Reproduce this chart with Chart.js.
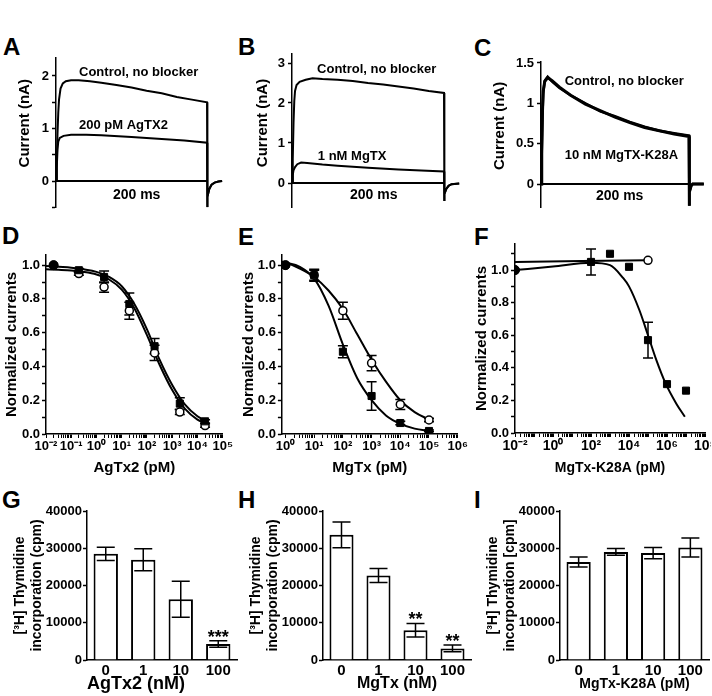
<!DOCTYPE html>
<html><head><meta charset="utf-8">
<script src="https://cdn.jsdelivr.net/npm/chart.js@4/dist/chart.umd.min.js"></script>
<style>
html,body{margin:0;padding:0;background:#fff;width:712px;height:696px;overflow:hidden;position:relative;}
canvas{position:absolute;}
.lbl{position:absolute;font:bold 24px/1 'Liberation Sans',Arial,sans-serif;color:#000;}
</style></head><body>
<div class="lbl" style="left:3px;top:35px">A</div>
<div class="lbl" style="left:238px;top:35px">B</div>
<div class="lbl" style="left:474px;top:36px">C</div>
<div class="lbl" style="left:2px;top:224px">D</div>
<div class="lbl" style="left:238px;top:225px">E</div>
<div class="lbl" style="left:474px;top:225px">F</div>
<div class="lbl" style="left:2px;top:488px">G</div>
<div class="lbl" style="left:238px;top:488px">H</div>
<div class="lbl" style="left:474px;top:488px">I</div>
<script>
// ================= DATA =================
// Panel A current traces (time in ms, current in nA)
const A_CTRL_T = [0,1,2,3,4,6,9,13,20,30,45,60,80,100,120,140,160,180,200,200,201,203,206,210,215,220];
const A_CTRL_I = [0,0.35,0.9,1.3,1.55,1.76,1.86,1.9,1.92,1.92,1.9,1.87,1.83,1.78,1.72,1.67,1.6,1.55,1.5,-0.5,-0.3,-0.15,-0.07,-0.03,-0.01,0];
const A_TOX_T  = [0,1,2,3,5,10,20,40,60,100,140,170,200,200,201,203,206,210,215,220];
const A_TOX_I  = [0,0.25,0.6,0.75,0.82,0.86,0.88,0.88,0.87,0.84,0.8,0.77,0.73,-0.5,-0.3,-0.15,-0.07,-0.03,-0.01,0];
// Panel B
const B_CTRL_T = [0,1,2,3,4,6,10,18,27,40,60,80,100,120,140,160,180,200,200,201,203,206,210,220];
const B_CTRL_I = [0,0.6,1.5,2.05,2.3,2.45,2.53,2.58,2.62,2.6,2.58,2.55,2.5,2.46,2.41,2.36,2.3,2.25,-0.45,-0.28,-0.15,-0.07,-0.03,-0.01];
const B_TOX_T  = [0,1,2,4,7,12,20,40,60,100,140,170,200,200,201,203,206,210,220];
const B_TOX_I  = [0,0.2,0.32,0.4,0.47,0.51,0.5,0.46,0.43,0.38,0.34,0.31,0.29,-0.45,-0.28,-0.15,-0.07,-0.03,-0.01];
// Panel C
const C_CTRL_T = [0,1,2,3,5,9,15,25,40,60,80,100,120,140,160,180,200,200,201,203,205,220];
const C_CTRL_I = [0,0.4,0.9,1.15,1.27,1.32,1.28,1.2,1.1,0.99,0.91,0.83,0.76,0.7,0.66,0.62,0.59,-0.27,-0.1,-0.02,0,0];
const C_TOX_T  = [0,1,2,3,5,9,15,25,40,60,80,100,120,140,160,180,200,200,201,203,205,220];
const C_TOX_I  = [0,0.35,0.85,1.12,1.28,1.33,1.27,1.19,1.1,1.0,0.9,0.84,0.77,0.71,0.66,0.63,0.6,-0.27,-0.1,-0.02,0,0];
const SCALEBAR_T = [0,200];
const SCALEBAR_I = [0,0];

// Panel D (AgTx2, pM)
const D_CONC = [0.02,0.2,2,20,200,2000,20000];
const D_FILLED = [1.0,0.97,0.93,0.77,0.52,0.18,0.075];
const D_FILLED_ERR = [0,0.01,0.035,0.065,0.045,0.035,0.01];
const D_OPEN = [1.0,0.95,0.87,0.73,0.48,0.13,0.05];
const D_OPEN_ERR = [0,0.01,0.03,0.05,0.045,0.015,0.01];
const D_FIT_X = [0.01,0.0316,0.1,0.316,1,3.16,10,31.6,100,316,1000,3162,10000,20000];
const D_FIT_FILLED = [0.995,0.99,0.985,0.975,0.96,0.93,0.875,0.77,0.62,0.44,0.29,0.175,0.105,0.08];
const D_FIT_OPEN = [0.975,0.972,0.968,0.96,0.945,0.915,0.855,0.745,0.585,0.41,0.26,0.15,0.085,0.065];
const D_X_MAJOR = [0.01,0.1,1,10,100,1000,10000,100000];
const D_X_LABELS = ['10⁻²','10⁻¹','10⁰','10¹','10²','10³','10⁴','10⁵'];

// Panel E (MgTx, pM)
const E_CONC = [1,10,100,1000,10000,100000];
const E_FILLED = [1.0,0.94,0.487,0.225,0.065,0.018];
const E_FILLED_ERR = [0,0.03,0.035,0.085,0.01,0.005];
const E_OPEN = [1.0,0.94,0.73,0.42,0.175,0.083];
const E_OPEN_ERR = [0,0.035,0.05,0.045,0.03,0.01];
const E_FIT_X = [0.75,1,3.16,10,31.6,100,316,1000,3162,10000,31623,100000];
const E_FIT_OPEN = [1.02,1.015,0.98,0.93,0.85,0.74,0.59,0.44,0.31,0.2,0.13,0.085];
const E_FIT_FILLED = [1.02,1.015,0.99,0.92,0.76,0.53,0.33,0.2,0.11,0.06,0.032,0.018];
const E_X_MAJOR = [1,10,100,1000,10000,100000,1000000];
const E_X_LABELS = ['10⁰','10¹','10²','10³','10⁴','10⁵','10⁶'];

// Panel F (MgTx-K28A, pM)
const F_CONC = [0.01,100,1000,10000,100000,1000000,10000000];
const F_FILLED = [1.0,1.05,1.10,1.02,0.57,0.30,0.26];
const F_FILLED_ERR = [0,0.08,0,0,0.11,0,0];
const F_OPEN_CONC = [0.01,100000];
const F_OPEN = [1.0,1.06];
const F_FIT_X = [0.01,1,100,1000,5000,10000,35000,100000,270000,830000,3100000,8700000];
const F_FIT_FILLED = [1.0,1.022,1.045,1.03,0.95,0.9,0.755,0.6,0.45,0.306,0.18,0.1];
const F_FIT_OPEN_X = [0.01,100000];
const F_FIT_OPEN = [1.05,1.06];
const F_X_MAJOR = [0.01,1,100,10000,1000000,100000000];
const F_X_LABELS = ['10⁻²','10⁰','10²','10⁴','10⁶','10⁸'];

// Panels G, H, I ([3H] thymidine incorporation, cpm)
const DOSE_CATS = ['0','1','10','100'];
const G_VALUES = [28500,26900,16300,4300];
const G_ERR = [1800,2950,4850,850];
const G_STARS = ['','','','***'];
const H_VALUES = [33600,22700,8000,3100];
const H_ERR = [3450,1870,1800,900];
const H_STARS = ['','','**','**'];
const I_VALUES = [26300,29000,28700,30200];
const I_ERR = [1350,900,1500,2550];
const I_STARS = ['','','',''];
const BAR_Y_TICKS = [0,10000,20000,30000,40000];
const BAR_Y_LABELS = ['0','10000','20000','30000','40000'];

// ================= RENDERING =================
const FONT = "'Liberation Sans', Arial, Helvetica, sans-serif";
Chart.defaults.font.family = FONT;
Chart.defaults.font.size = 13;
Chart.defaults.font.weight = 'bold';
Chart.defaults.color = '#000';
Chart.defaults.plugins.legend.display = false;
Chart.defaults.plugins.tooltip.enabled = false;

const xy = (xs, ys) => xs.map((x, i) => ({x: x, y: ys[i]}));

function textPlugin(items) {
  return { id: 'texts', afterDatasetsDraw(chart) {
    const ctx = chart.ctx, xs = chart.scales.x, ys = chart.scales.y, ca = chart.chartArea;
    items.forEach(it => {
      const px = (it.dx !== undefined) ? ca.left + it.dx : xs.getPixelForValue(it.x);
      const py = ys.getPixelForValue(it.y);
      ctx.save();
      ctx.font = 'bold ' + (it.size || 13) + 'px ' + FONT;
      ctx.fillStyle = '#000';
      ctx.textAlign = it.align || 'left';
      ctx.textBaseline = 'middle';
      ctx.translate(px, py);
      if (it.rot) ctx.rotate(it.rot);
      ctx.fillText(it.text, 0, 0);
      ctx.restore();
    });
  }};
}

function errPlugin(after) {
  const draw = (chart) => {
    const ctx = chart.ctx, ys = chart.scales.y;
    chart.data.datasets.forEach((ds, di) => {
      if (!ds.errors) return;
      const meta = chart.getDatasetMeta(di);
      ds.errors.forEach((e, i) => {
        const el = meta.data[i];
        if (!el) return;
        const raw = ds.data[i];
        const v = (typeof raw === 'object') ? raw.y : raw;
        const x = el.x, hw = (ds.capWidth || 10) / 2;
        const y1 = ys.getPixelForValue(v + e), y2 = ys.getPixelForValue(v - e);
        if (e) {
          ctx.save();
          ctx.strokeStyle = '#000';
          ctx.lineWidth = ds.errWidth || 1.5;
          ctx.beginPath();
          ctx.moveTo(x, y1); ctx.lineTo(x, y2);
          ctx.moveTo(x - hw, y1); ctx.lineTo(x + hw, y1);
          ctx.moveTo(x - hw, y2); ctx.lineTo(x + hw, y2);
          ctx.stroke();
          ctx.restore();
        }
        if (ds.stars && ds.stars[i]) {
          ctx.save();
          ctx.font = 'bold 18px ' + FONT;
          ctx.fillStyle = '#000';
          ctx.textAlign = 'center';
          ctx.textBaseline = 'alphabetic';
          ctx.fillText(ds.stars[i], x, y1 + 2);
          ctx.restore();
        }
      });
    });
  };
  return after ? {id: 'errbars', afterDatasetsDraw: draw} : {id: 'errbars', beforeDatasetsDraw: draw};
}

function labelLookup(vals, labels) {
  return (v) => {
    const i = vals.findIndex(t => Math.abs(t - v) <= 1e-9 * Math.max(1, Math.abs(t)));
    return i >= 0 ? labels[i] : '';
  };
}

function yLin(min, max, vals, labels, extra) {
  return Object.assign({
    type: 'linear', min: min, max: max,
    border: {display: true, color: '#000', width: 1.5},
    grid: {drawOnChartArea: false, drawTicks: true, tickLength: 4, tickColor: '#000', tickWidth: 1.5},
    ticks: {padding: 3, autoSkip: false, font: {size: 13}, callback: labelLookup(vals, labels)},
    afterBuildTicks: s => { s.ticks = vals.map(v => ({value: v})); }
  }, extra || {});
}

function logTickValues(minExp, maxExp, minVal) {
  const out = [];
  for (let e = minExp; e < maxExp; e++) {
    for (let k = 1; k <= 9; k++) {
      const v = k * Math.pow(10, e);
      if (v >= minVal) out.push(v);
    }
  }
  out.push(Math.pow(10, maxExp));
  return out;
}

function xLog(min, max, tickVals, major, labels, title, titleSize, tickSize) {
  return {
    type: 'logarithmic', min: min, max: max,
    border: {display: true, color: '#000', width: 1.5},
    grid: {drawOnChartArea: false, drawTicks: true, tickLength: 4, tickColor: '#000', tickWidth: 1},
    ticks: {padding: 1, autoSkip: false, maxRotation: 0, minRotation: 0, font: {size: tickSize}, callback: labelLookup(major, labels)},
    afterBuildTicks: s => { s.ticks = tickVals.map(v => ({value: v})); },
    title: {display: true, text: title, font: {size: titleSize}, padding: {top: 2, bottom: 4}}
  };
}

function panel(spec, cfg) {
  const top = Math.round(spec.T - spec.pt);
  const left = spec.left;
  const yw = spec.L - left;
  const width = Math.round(spec.R - left + spec.pr);
  const height = Math.round(spec.B - top + spec.xh + spec.pb);
  const padTop = spec.T - top;
  const padRight = width - (spec.R - left);
  const padBottom = height - (spec.B - top) - spec.xh;
  const cv = document.createElement('canvas');
  cv.width = width; cv.height = height;
  cv.style.left = left + 'px'; cv.style.top = top + 'px';
  cv.style.width = width + 'px'; cv.style.height = height + 'px';
  document.body.appendChild(cv);
  const o = cfg.options;
  o.responsive = false; o.animation = false; o.devicePixelRatio = 1; o.events = [];
  o.layout = {padding: {left: 0, top: padTop, right: padRight, bottom: padBottom}};
  o.scales.y.afterFit = s => { s.width = yw; s.paddingTop = 0; s.paddingBottom = 0; };
  if (o.scales.x.display !== false) {
    o.scales.x.afterFit = s => { s.height = spec.xh; s.paddingLeft = 0; s.paddingRight = 0; };
  }
  return new Chart(cv, cfg);
}

function trace(xs, ys, w) {
  return {data: xy(xs, ys), showLine: true, borderColor: '#000', borderWidth: w, pointRadius: 0, tension: 0, fill: false};
}

function traceChart(spec, datasets, xmax, ymin, ymax, yVals, yLabels, texts) {
  return panel(spec, {
    type: 'scatter',
    data: {datasets: datasets},
    options: {
      scales: {
        x: {type: 'linear', display: false, min: 0, max: xmax},
        y: yLin(ymin, ymax, yVals, yLabels)
      }
    },
    plugins: [textPlugin(texts)]
  });
}

// ---- Panel A ----
traceChart({L: 56, R: 225.9, T: 57.6, B: 207.3, left: 10, xh: 0, pt: 9, pr: 2, pb: 4},
  [trace(SCALEBAR_T, SCALEBAR_I, 2), trace(A_CTRL_T, A_CTRL_I, 2), trace(A_TOX_T, A_TOX_I, 2)],
  225, -0.5, 2.35, [-0.5,0,0.5,1,1.5,2], ['','0','','1','','2'],
  [{x: 30.5, y: 2.06, text: 'Control, no blocker'},
   {x: 30.5, y: 1.05, text: '200 pM AgTX2'},
   {x: 106.8, y: -0.27, text: '200 ms', align: 'center', size: 14},
   {dx: -31, y: 1.1, text: 'Current (nA)', align: 'center', size: 15, rot: -Math.PI / 2}]);

// ---- Panel B ----
traceChart({L: 292, R: 463, T: 54, B: 207, left: 246, xh: 0, pt: 9, pr: 2, pb: 4},
  [trace(SCALEBAR_T, SCALEBAR_I, 2), trace(B_CTRL_T, B_CTRL_I, 2), trace(B_TOX_T, B_TOX_I, 2)],
  225, -0.6, 3.225, [0,1,2,3], ['0','1','2','3'],
  [{x: 33, y: 2.83, text: 'Control, no blocker'},
   {x: 34, y: 0.675, text: '1 nM MgTX'},
   {x: 107.5, y: -0.3, text: '200 ms', align: 'center', size: 14},
   {dx: -29, y: 1.5, text: 'Current (nA)', align: 'center', size: 15, rot: -Math.PI / 2}]);

// ---- Panel C ----
traceChart({L: 541, R: 707.5, T: 62, B: 207, left: 490, xh: 0, pt: 9, pr: 2, pb: 4},
  [trace(SCALEBAR_T, SCALEBAR_I, 2), trace(C_CTRL_T, C_CTRL_I, 3), trace(C_TOX_T, C_TOX_I, 2.5)],
  225, -0.285, 1.512, [0,0.5,1,1.5], ['0','0.5','1','1.5'],
  [{x: 32, y: 1.276, text: 'Control, no blocker'},
   {x: 32, y: 0.36, text: '10 nM MgTX-K28A'},
   {x: 106.3, y: -0.15, text: '200 ms', align: 'center', size: 14},
   {dx: -41, y: 0.72, text: 'Current (nA)', align: 'center', size: 15, rot: -Math.PI / 2}]);

// ---- Dose-response panels ----
const NORM_TICKS = [0,0.1,0.2,0.3,0.4,0.5,0.6,0.7,0.8,0.9,1.0];
const NORM_LABELS = ['0.0','','0.2','','0.4','','0.6','','0.8','','1.0'];
const NORM_TICKS_F = NORM_TICKS.concat([1.1]);
const NORM_LABELS_F = NORM_LABELS.concat(['']);

function filledSet(xs, ys, errs) {
  return {data: xy(xs, ys), errors: errs, capWidth: 10, showLine: false,
    pointStyle: c => c.dataIndex === 0 ? 'circle' : 'rect',
    pointRadius: c => c.dataIndex === 0 ? 4.5 : 5,
    backgroundColor: '#000', borderColor: '#000', borderWidth: 1, order: 0};
}
function openSet(xs, ys, errs) {
  return {data: xy(xs, ys), errors: errs, capWidth: 10, showLine: false,
    pointStyle: 'circle', pointRadius: 4,
    backgroundColor: c => c.dataIndex === 0 ? '#000' : '#fff', borderColor: '#000', borderWidth: 1.5, order: 0};
}
function fitSet(xs, ys) {
  return {data: xy(xs, ys), showLine: true, borderColor: '#000', borderWidth: 2, pointRadius: 0,
    cubicInterpolationMode: 'monotone', fill: false, order: 1};
}
function doseChart(spec, datasets, xScale, yMax, yVals, yLabels) {
  return panel(spec, {
    type: 'scatter',
    data: {datasets: datasets},
    options: {
      scales: {
        x: xScale,
        y: yLin(0, yMax, yVals, yLabels, {
          ticks: {padding: 2, autoSkip: false, font: {size: 13}, callback: labelLookup(yVals, yLabels)},
          title: {display: true, text: 'Normalized currents', font: {size: 15}, padding: {top: 2, bottom: 2}}
        })
      }
    },
    plugins: [errPlugin(false)]
  });
}

// ---- Panel D ----
doseChart({L: 46, R: 222.7, T: 255, B: 434, left: 1, xh: 47, pt: 9, pr: 12, pb: 0},
  [filledSet(D_CONC, D_FILLED, D_FILLED_ERR), openSet(D_CONC, D_OPEN, D_OPEN_ERR),
   fitSet(D_FIT_X, D_FIT_FILLED), fitSet(D_FIT_X, D_FIT_OPEN)],
  xLog(0.01, 100000, logTickValues(-2, 5, 0.01), D_X_MAJOR, D_X_LABELS, 'AgTx2 (pM)', 15, 13),
  1.06, NORM_TICKS, NORM_LABELS);

// ---- Panel E ----
doseChart({L: 281.9, R: 457.7, T: 255, B: 434, left: 238, xh: 47, pt: 9, pr: 12, pb: 0},
  [filledSet(E_CONC, E_FILLED, E_FILLED_ERR), openSet(E_CONC, E_OPEN, E_OPEN_ERR),
   fitSet(E_FIT_X, E_FIT_FILLED), fitSet(E_FIT_X, E_FIT_OPEN)],
  xLog(0.75, 1000000, logTickValues(0, 6, 0.75), E_X_MAJOR, E_X_LABELS, 'MgTx (pM)', 15, 13),
  1.06, NORM_TICKS, NORM_LABELS);

// ---- Panel F ----
doseChart({L: 515, R: 705.3, T: 244, B: 433, left: 471, xh: 48, pt: 9, pr: 6, pb: 0},
  [filledSet(F_CONC, F_FILLED, F_FILLED_ERR), openSet(F_OPEN_CONC, F_OPEN, [0,0]),
   fitSet(F_FIT_X, F_FIT_FILLED), fitSet(F_FIT_OPEN_X, F_FIT_OPEN)],
  xLog(0.01, 100000000, logTickValues(-2, 8, 0.01), F_X_MAJOR, F_X_LABELS, 'MgTx-K28A (pM)', 14, 14),
  1.16, NORM_TICKS_F, NORM_LABELS_F);

// ---- Bar panels ----
function barChart(spec, values, errs, stars, xTitle, xTitleSize, yTitle, titleAlign) {
  return panel(spec, {
    type: 'bar',
    data: {labels: DOSE_CATS, datasets: [{
      data: values, errors: errs, stars: stars, capWidth: 18, errWidth: 1.5,
      backgroundColor: '#fff', borderColor: '#000', borderWidth: 2,
      barPercentage: 0.65, categoryPercentage: 1
    }]},
    options: {
      scales: {
        x: {
          type: 'category',
          border: {display: true, color: '#000', width: 1.5},
          grid: {display: true, drawOnChartArea: false, drawTicks: false},
          ticks: {padding: 2, font: {size: 15}, maxRotation: 0, minRotation: 0},
          title: {display: true, text: xTitle, align: titleAlign, font: {size: xTitleSize}, padding: {top: 2, bottom: 4}}
        },
        y: yLin(0, 40000, BAR_Y_TICKS, BAR_Y_LABELS, {
          ticks: {padding: 1, autoSkip: false, font: {size: 13}, callback: labelLookup(BAR_Y_TICKS, BAR_Y_LABELS)},
          title: {display: true, text: yTitle, font: {size: 14}, padding: {top: 4, bottom: 2}}
        })
      }
    },
    plugins: [errPlugin(true)]
  });
}

barChart({L: 87, R: 237, T: 511, B: 660, left: 8, xh: 38.8, pt: 9, pr: 3, pb: 0},
  G_VALUES, G_ERR, G_STARS, 'AgTx2 (nM)', 18, ['[³H] Thymidine', 'incorporation (cpm)'], 'start');
barChart({L: 323, R: 471, T: 511, B: 660, left: 244, xh: 37.6, pt: 9, pr: 3, pb: 0},
  H_VALUES, H_ERR, H_STARS, 'MgTx (nM)', 16, ['[³H] Thymidine', 'incorporation (cpm)'], 'center');
barChart({L: 560, R: 709, T: 511, B: 660, left: 481, xh: 36.4, pt: 9, pr: 2, pb: 0},
  I_VALUES, I_ERR, I_STARS, 'MgTx-K28A (pM)', 14, ['[³H] Thymidine', 'incorporation [cpm]'], 'center');
</script>
</body></html>
